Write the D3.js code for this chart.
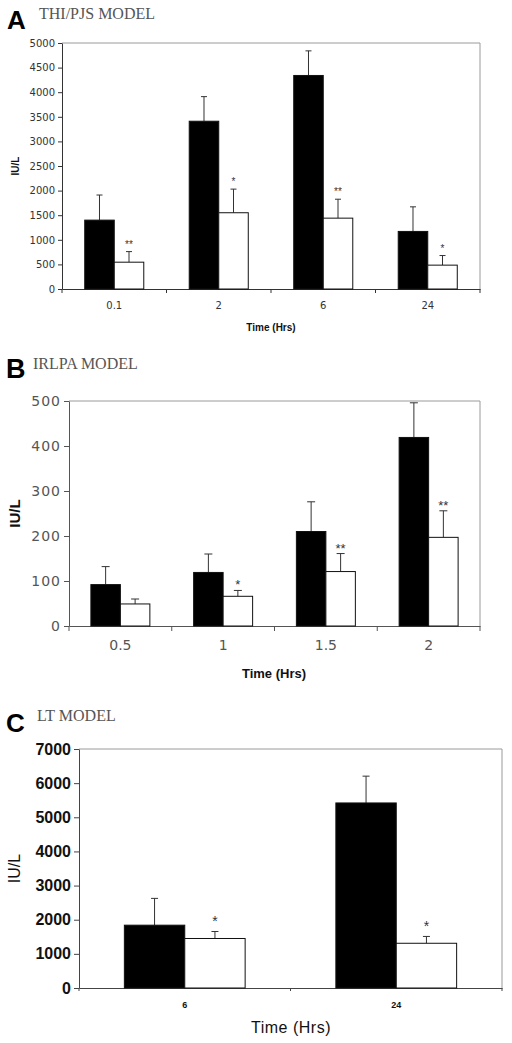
<!DOCTYPE html>
<html>
<head>
<meta charset="utf-8">
<script src="https://cdn.jsdelivr.net/npm/d3@7/dist/d3.min.js"></script>
<style>
  html, body { margin: 0; padding: 0; background: #fff; }
  svg { display: block; }
</style>
</head>
<body>
<svg id="chart" width="512" height="1043"></svg>
<script>
// ---------------- DATA ----------------
// Panel A: THI/PJS model
const timesA = ["0.1", "2", "6", "24"];
const controlA = [1400, 3410, 4340, 1170];
const controlErrA = [510, 500, 500, 500];
const treatedA = [545, 1550, 1440, 485];
const treatedErrA = [215, 480, 385, 195];
const starsA = ["**", "*", "**", "*"];
const ticksA = [0, 500, 1000, 1500, 2000, 2500, 3000, 3500, 4000, 4500, 5000];

// Panel B: IRLPA model
const timesB = ["0.5", "1", "1.5", "2"];
const controlB = [92, 119, 210, 419];
const controlErrB = [40, 41, 66, 77];
const treatedB = [49, 66, 121, 197];
const treatedErrB = [11, 13, 40, 59];
const starsB = ["", "*", "**", "**"];
const ticksB = [0, 100, 200, 300, 400, 500];

// Panel C: LT model
const timesC = ["6", "24"];
const controlC = [1840, 5420];
const controlErrC = [785, 785];
const treatedC = [1450, 1310];
const treatedErrC = [205, 200];
const starsC = ["*", "*"];
const ticksC = [0, 1000, 2000, 3000, 4000, 5000, 6000, 7000];

const titles = ["THI/PJS MODEL", "IRLPA MODEL", "LT MODEL"];
const letters = ["A", "B", "C"];

// ---------------- DRAW ----------------
const svg = d3.select("#chart");

function drawPanel(o) {
  const g = svg.append("g");
  // letter & title
  g.append("text").attr("x", o.letterX).attr("y", o.letterY)
    .attr("font-family", "Liberation Sans, Arial, sans-serif")
    .attr("font-weight", "bold").attr("font-size", o.letterSize).attr("fill", "#000")
    .text(o.letter);
  g.append("text").attr("x", o.titleX).attr("y", o.titleY)
    .attr("font-family", "Liberation Serif, Times New Roman, serif")
    .attr("font-size", 16).attr("fill", "#555")
    .text(o.title);

  const x0 = d3.scaleBand().domain(o.times).range([o.left, o.right]).padding(0);
  const bw = x0.bandwidth();
  const x1 = d3.scaleBand().domain([0, 1])
    .range([bw * (1 - o.group) / 2, bw * (1 + o.group) / 2]).padding(0);
  const y = d3.scaleLinear().domain([0, o.ticks[o.ticks.length - 1]]).range([o.bottom, o.top]);

  // frame top & right (gray)
  g.append("path")
    .attr("d", `M${o.left},${o.top}H${o.right}V${o.bottom}`)
    .attr("fill", "none").attr("stroke", "#9a9a9a").attr("stroke-width", 1);

  // y axis
  const yAxis = d3.axisLeft(y).tickValues(o.ticks).tickFormat(d3.format("d"))
    .tickSize(o.yTickLen).tickSizeOuter(0).tickPadding(3);
  const ya = g.append("g").attr("transform", `translate(${o.left},0)`).call(yAxis);
  ya.select(".domain").attr("stroke", o.axisColor);
  ya.selectAll(".tick line").attr("stroke", o.axisColor);
  ya.selectAll(".tick text")
    .attr("font-family", o.yFont).attr("font-size", o.yFontSize)
    .attr("font-weight", o.yWeight).attr("fill", o.yColor)
    .attr("letter-spacing", o.yLetterSpacing);

  // x axis: labels at band centres, ticks at band boundaries
  const xAxis = d3.axisBottom(x0).tickSize(0).tickPadding(o.xLabelPad).tickSizeOuter(0);
  const xa = g.append("g").attr("transform", `translate(0,${o.bottom})`).call(xAxis);
  xa.select(".domain").attr("stroke", o.axisColor);
  xa.selectAll(".tick text")
    .attr("font-family", o.xFont).attr("font-size", o.xFontSize)
    .attr("font-weight", o.xWeight).attr("fill", o.xColor);
  const bounds = o.times.map(t => x0(t)).concat([o.right]);
  g.selectAll(".xtick").data(bounds).enter().append("line")
    .attr("x1", d => d).attr("x2", d => d)
    .attr("y1", o.bottom).attr("y2", o.bottom + o.xTickLen)
    .attr("stroke", o.axisColor);

  // bars
  const series = [
    { vals: o.control, errs: o.controlErr, fill: "#000" },
    { vals: o.treated, errs: o.treatedErr, fill: "#fff" }
  ];
  series.forEach((s, si) => {
    const bars = g.append("g");
    o.times.forEach((t, i) => {
      const bx = x0(t) + x1(si);
      const w = x1.bandwidth();
      const cx = bx + w / 2;
      const top = y(s.vals[i] + s.errs[i]);
      // error bar
      bars.append("line").attr("x1", cx).attr("x2", cx)
        .attr("y1", y(s.vals[i])).attr("y2", top)
        .attr("stroke", "#333").attr("stroke-width", 1);
      bars.append("line").attr("x1", cx - o.cap / 2).attr("x2", cx + o.cap / 2)
        .attr("y1", top).attr("y2", top)
        .attr("stroke", "#333").attr("stroke-width", 1);
      bars.append("rect")
        .attr("x", bx).attr("y", y(s.vals[i]))
        .attr("width", w).attr("height", o.bottom - y(s.vals[i]))
        .attr("fill", s.fill).attr("stroke", "#111").attr("stroke-width", 1);
      if (si === 1 && o.stars[i]) {
        g.append("text").attr("x", cx).attr("y", top - o.starOffset)
          .attr("text-anchor", "middle")
          .attr("font-family", "Liberation Sans, Arial, sans-serif")
          .attr("font-size", o.starSize).attr("fill", "#333")
          .text(o.stars[i]);
      }
    });
  });

  // axis titles
  g.append("text")
    .attr("transform", `translate(${o.yLabelX},${(o.top + o.bottom) / 2}) rotate(-90)`)
    .attr("text-anchor", "middle")
    .attr("font-family", "Liberation Sans, Arial, sans-serif")
    .attr("font-size", o.yLabelSize).attr("font-weight", o.yLabelWeight).attr("fill", "#111")
    .text("IU/L");
  g.append("text").attr("x", o.xTitleX).attr("y", o.xTitleY)
    .attr("text-anchor", "middle")
    .attr("font-family", "Liberation Sans, Arial, sans-serif")
    .attr("font-size", o.xTitleSize).attr("font-weight", o.xTitleWeight).attr("fill", "#111")
    .attr("letter-spacing", o.xTitleSpacing)
    .text("Time (Hrs)");
}

drawPanel({
  letter: letters[0], letterX: 7, letterY: 29, letterSize: 26,
  title: titles[0], titleX: 39, titleY: 19,
  times: timesA, control: controlA, controlErr: controlErrA,
  treated: treatedA, treatedErr: treatedErrA, stars: starsA, ticks: ticksA,
  left: 62, right: 480, top: 43, bottom: 289, group: 0.565,
  axisColor: "#333", yTickLen: 4, xTickLen: 4,
  yFont: "DejaVu Sans, sans-serif", yFontSize: 10, yWeight: "normal", yColor: "#333", yLetterSpacing: 0,
  xFont: "DejaVu Sans, sans-serif", xFontSize: 10, xWeight: "normal", xColor: "#333", xLabelPad: 13,
  cap: 6, starSize: 10, starOffset: 4,
  yLabelX: 19, yLabelSize: 10, yLabelWeight: "bold",
  xTitleX: 271, xTitleY: 331, xTitleSize: 10, xTitleWeight: "bold", xTitleSpacing: 0
});

drawPanel({
  letter: letters[1], letterX: 6, letterY: 378, letterSize: 27,
  title: titles[1], titleX: 33, titleY: 369,
  times: timesB, control: controlB, controlErr: controlErrB,
  treated: treatedB, treatedErr: treatedErrB, stars: starsB, ticks: ticksB,
  left: 69, right: 480, top: 401, bottom: 626, group: 0.574,
  axisColor: "#555", yTickLen: 5, xTickLen: 5,
  yFont: "DejaVu Sans, sans-serif", yFontSize: 14, yWeight: "normal", yColor: "#555", yLetterSpacing: 1,
  xFont: "DejaVu Sans, sans-serif", xFontSize: 14, xWeight: "normal", xColor: "#555", xLabelPad: 14,
  cap: 8, starSize: 13, starOffset: 1,
  yLabelX: 20, yLabelSize: 15, yLabelWeight: "bold",
  xTitleX: 274, xTitleY: 678, xTitleSize: 13, xTitleWeight: "bold", xTitleSpacing: 0
});

drawPanel({
  letter: letters[2], letterX: 6, letterY: 732, letterSize: 26,
  title: titles[2], titleX: 37, titleY: 721,
  times: timesC, control: controlC, controlErr: controlErrC,
  treated: treatedC, treatedErr: treatedErrC, stars: starsC, ticks: ticksC,
  left: 79, right: 502, top: 749, bottom: 988, group: 0.571,
  axisColor: "#444", yTickLen: 5, xTickLen: 3,
  yFont: "Liberation Sans, Arial, sans-serif", yFontSize: 16, yWeight: "bold", yColor: "#111", yLetterSpacing: 0,
  xFont: "Liberation Sans, Arial, sans-serif", xFontSize: 9, xWeight: "bold", xColor: "#111", xLabelPad: 14,
  cap: 7, starSize: 14, starOffset: 5,
  yLabelX: 20, yLabelSize: 16, yLabelWeight: "normal",
  xTitleX: 291, xTitleY: 1033, xTitleSize: 16, xTitleWeight: "normal", xTitleSpacing: 0.5
});
</script>
</body>
</html>
